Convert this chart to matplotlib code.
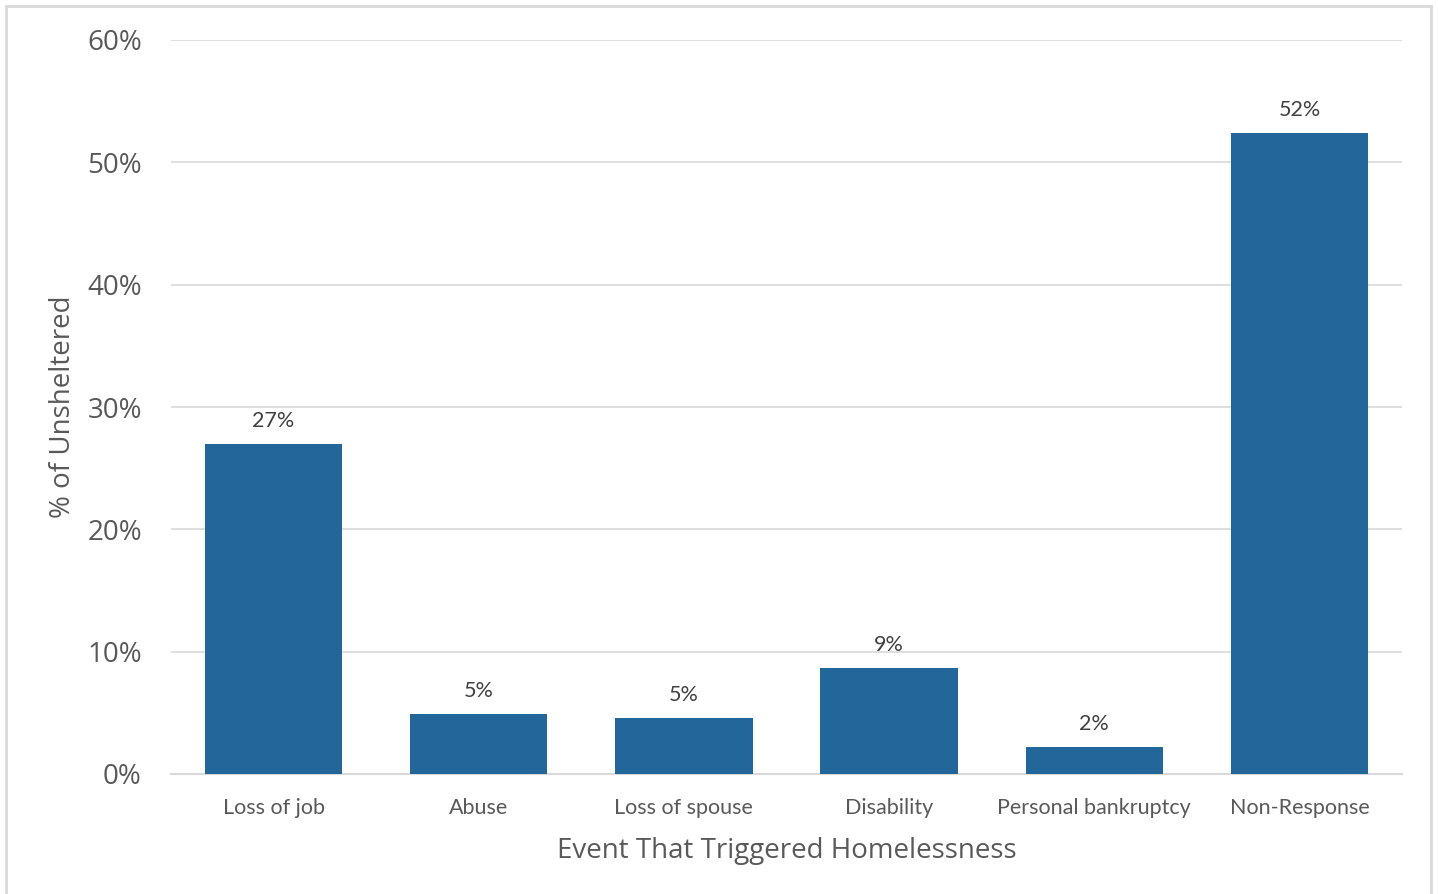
import matplotlib.pyplot as plt
from matplotlib.patches import Rectangle

categories = ["Loss of job", "Abuse", "Loss of spouse", "Disability",
              "Personal bankruptcy", "Non-Response"]
values = [27.0, 4.9, 4.6, 8.7, 2.2, 52.4]
value_labels = ["27%", "5%", "5%", "9%", "2%", "52%"]
y_ticks = [0, 10, 20, 30, 40, 50, 60]

bar_color = "#23669a"
text_color = "#595959"
grid_color = "#d9d9d9"

fig = plt.figure(figsize=(14.38, 8.94), dpi=100)
ax = fig.add_axes([171 / 1438, 1 - 774 / 894, (1402 - 171) / 1438, (774 - 40) / 894])

# light frame round the chart area
fig.patches.append(Rectangle((6 / 1438, -0.01), (1431 - 6) / 1438, 1 - 6 / 894 + 0.01,
                             transform=fig.transFigure, fill=False,
                             edgecolor="#d9d9d9", linewidth=2))

x = range(len(categories))
bars = ax.bar(x, values, width=0.67, color=bar_color, zorder=3)

for b, lab in zip(bars, value_labels):
    ax.annotate(lab, (b.get_x() + b.get_width() / 2, b.get_height()),
                xytext=(0, 13), textcoords="offset pixels",
                ha="center", va="bottom", fontsize=15.5, family="Lato",
                color="#404040")

ax.set_xlim(-0.5, len(categories) - 0.5)
ax.set_ylim(0, 60)
ax.set_yticks(y_ticks)
ax.set_yticklabels([f"{t}%" for t in y_ticks], fontsize=20, family="Open Sans",
                   color=text_color)
ax.set_xticks(list(x))
ax.set_xticklabels(categories, fontsize=15.5, family="Lato", color=text_color)
ax.tick_params(axis="y", length=0, pad=21)
ax.tick_params(axis="x", length=0, pad=17)

ax.grid(axis="y", color=grid_color, linewidth=1.2, zorder=0)
for s in ["top", "right", "left"]:
    ax.spines[s].set_visible(False)
ax.spines["bottom"].set_color(grid_color)
ax.spines["bottom"].set_linewidth(1.5)

ax.set_xlabel("Event That Triggered Homelessness", fontsize=20, family="Open Sans",
              color=text_color, labelpad=14)
ax.set_ylabel("% of Unsheltered", fontsize=20, family="Open Sans",
              color=text_color, labelpad=7)

fig.savefig("out.png", dpi=100)
